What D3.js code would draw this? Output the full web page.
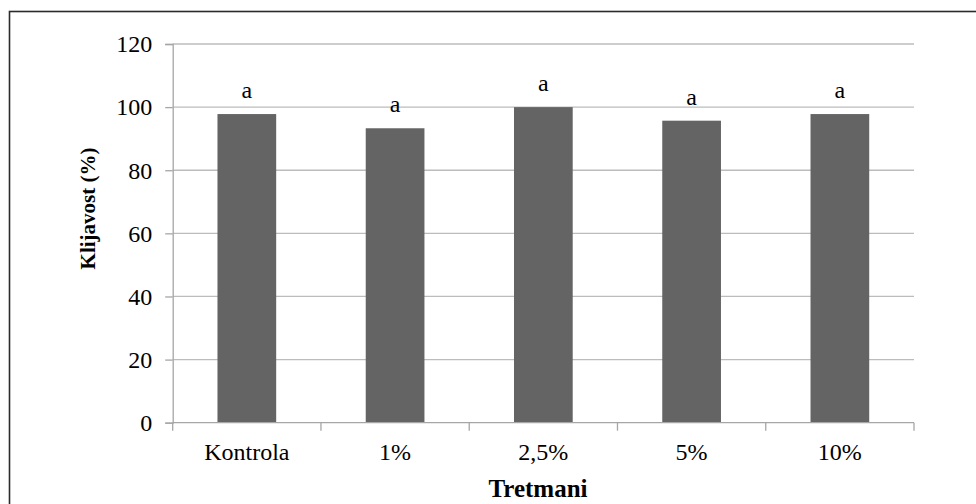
<!DOCTYPE html>
<html><head><meta charset="utf-8">
<script src="https://cdn.jsdelivr.net/npm/d3@7"></script>
<style>
html,body{margin:0;padding:0;background:#fff;}
svg{display:block;}
</style></head>
<body>
<div id="chart"></div>
<script>
const categories = ["Kontrola", "1%", "2,5%", "5%", "10%"];
const values = [97.8, 93.3, 100, 95.7, 97.8];
const letters = ["a", "a", "a", "a", "a"];
const yTicks = [0, 20, 40, 60, 80, 100, 120];
const yTitle = "Klijavost (%)";
const xTitle = "Tretmani";

const FONT = "'Liberation Serif', 'Times New Roman', serif";
const W = 976, H = 504;
const m = {left: 172.7, right: 976 - 914, top: 44, bottom: 504 - 422.7};
const svg = d3.select("#chart").append("svg").attr("width", W).attr("height", H);

svg.append("rect").attr("x", 9.5).attr("y", 11.5).attr("width", W).attr("height", H)
  .attr("fill", "none").attr("stroke", "#2b2b2b").attr("stroke-width", 1.6);

const x = d3.scaleBand().domain(categories).range([m.left, W - m.right]).paddingInner(0.604).paddingOuter(0.302);
const y = d3.scaleLinear().domain([0, 120]).range([H - m.bottom, m.top]);

const g = svg.append("g");
// gridlines
g.selectAll("line.grid").data(yTicks.filter(d => d > 0)).join("line")
  .attr("class", "grid")
  .attr("x1", m.left).attr("x2", W - m.right)
  .attr("y1", d => y(d)).attr("y2", d => y(d))
  .attr("stroke", "#bcbcbc").attr("stroke-width", 1.3);

// y axis
const yAxis = g.append("g").attr("transform", `translate(${m.left},0)`)
  .call(d3.axisLeft(y).tickValues(yTicks).tickSize(7.5).tickPadding(13));
yAxis.attr("font-family", null).attr("font-size", null);
yAxis.select(".domain").attr("stroke", "#a6a6a6").attr("stroke-width", 1.3);
yAxis.selectAll(".tick line").attr("stroke", "#a6a6a6").attr("stroke-width", 1.3);
yAxis.selectAll(".tick text").attr("dy", null).attr("y", 7.8)
  .style("font-family", FONT).style("font-size", "24px").style("fill", "#000");

// bars
g.selectAll("rect.bar").data(values).join("rect")
  .attr("class", "bar")
  .attr("x", (d, i) => x(categories[i]))
  .attr("width", x.bandwidth())
  .attr("y", d => y(d))
  .attr("height", d => y(0) - y(d))
  .attr("fill", "#646464");

// x axis
const xEdges = categories.map(c => x(c) - x.step() * x.paddingOuter()).concat([W - m.right]);
const xAxisG = g.append("g");
xAxisG.append("line").attr("x1", m.left).attr("x2", W - m.right)
  .attr("y1", y(0)).attr("y2", y(0)).attr("stroke", "#a6a6a6").attr("stroke-width", 1.3);
xAxisG.selectAll("line.xt").data(xEdges).join("line").attr("class", "xt")
  .attr("x1", d => d).attr("x2", d => d).attr("y1", y(0)).attr("y2", y(0) + 8)
  .attr("stroke", "#a6a6a6").attr("stroke-width", 1.3);
xAxisG.selectAll("text").data(categories).join("text")
  .attr("x", d => x(d) + x.bandwidth() / 2).attr("y", 460)
  .attr("text-anchor", "middle")
  .style("font-family", FONT).style("font-size", "24px")
  .text(d => d);

// letters
g.selectAll("text.lbl").data(values).join("text").attr("class", "lbl")
  .attr("x", (d, i) => x(categories[i]) + x.bandwidth() / 2)
  .attr("y", d => y(d) - 16)
  .attr("text-anchor", "middle")
  .style("font-family", FONT).style("font-size", "24px")
  .text((d, i) => letters[i]);

// titles
svg.append("text").attr("x", 538).attr("y", 497).attr("text-anchor", "middle")
  .style("font-family", FONT).style("font-size", "25px").style("font-weight", "bold").text(xTitle);
svg.append("text").attr("transform", "translate(95,208.5) rotate(-90)")
  .attr("text-anchor", "middle")
  .style("font-family", FONT).style("font-size", "21px").style("font-weight", "bold").text(yTitle);
</script>
</body></html>
